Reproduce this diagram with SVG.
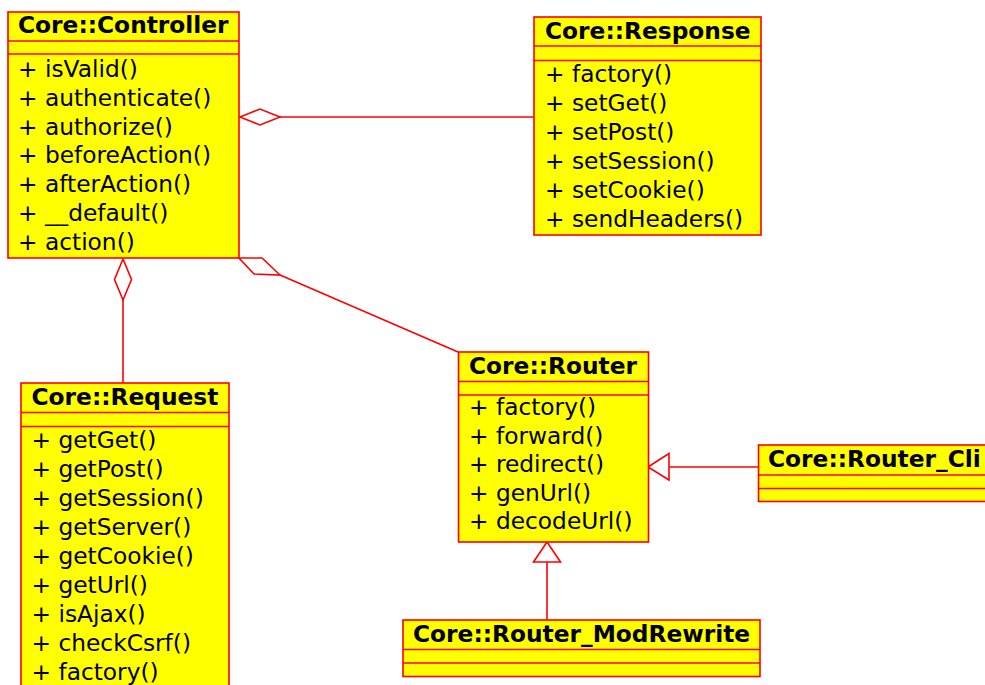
<svg xmlns="http://www.w3.org/2000/svg" width="985" height="685" viewBox="0 0 985 685">
<style>
.box{fill:#ffff00;stroke:#ff0000;stroke-width:1.6}
.sep{stroke:#ff0000;stroke-width:1.6;fill:none}
.t{font-family:"DejaVu Sans",sans-serif;font-size:23.3px;font-weight:bold;fill:#000}
.m{font-family:"DejaVu Sans",sans-serif;font-size:23.3px;fill:#000}
.ln{stroke:#ff0000;stroke-width:1.6;fill:none}
.hd{stroke:#ff0000;stroke-width:1.6;fill:#fff}
</style>
<rect width="985" height="685" fill="#fff"/>
<g id="connectors">
<line class="ln" x1="280" y1="117" x2="534" y2="117"/>
<polygon class="hd" points="240,117 260,109 280,117 260,125"/>
<line class="ln" x1="123" y1="300" x2="123" y2="383"/>
<polygon class="hd" points="123,259 131.5,279.5 123,300 114.5,279.5"/>
<line class="ln" x1="280" y1="275" x2="458" y2="352"/>
<polygon class="hd" points="239,258 262,258 280,275 254,274"/>
<line class="ln" x1="669" y1="467" x2="758" y2="467"/>
<polygon class="hd" points="648,467 669,453.5 669,480"/>
<line class="ln" x1="547" y1="562" x2="547" y2="620"/>
<polygon class="hd" points="547,542 533.5,562 560.5,562"/>
</g>
<g id="controller">
<rect class="box" x="8" y="12" width="231" height="246"/>
<line class="sep" x1="8" y1="41" x2="239" y2="41"/>
<line class="sep" x1="8" y1="54" x2="239" y2="54"/>
<text class="t" x="18" y="33">Core::Controller</text>
<text class="m" x="18" y="77">+ isValid()</text>
<text class="m" x="18" y="106">+ authenticate()</text>
<text class="m" x="18" y="134.5">+ authorize()</text>
<text class="m" x="18" y="163">+ beforeAction()</text>
<text class="m" x="18" y="192">+ afterAction()</text>
<text class="m" x="18" y="220.5">+ __default()</text>
<text class="m" x="18" y="249.5">+ action()</text>
</g>
<g id="response">
<rect class="box" x="534" y="17" width="227" height="218"/>
<line class="sep" x1="534" y1="46" x2="761" y2="46"/>
<line class="sep" x1="534" y1="60.5" x2="761" y2="60.5"/>
<text class="t" x="545" y="38.5">Core::Response</text>
<text class="m" x="545" y="82">+ factory()</text>
<text class="m" x="545" y="111">+ setGet()</text>
<text class="m" x="545" y="140">+ setPost()</text>
<text class="m" x="545" y="169">+ setSession()</text>
<text class="m" x="545" y="198">+ setCookie()</text>
<text class="m" x="545" y="227">+ sendHeaders()</text>
</g>
<g id="request">
<rect class="box" x="21" y="383" width="208" height="320"/>
<line class="sep" x1="21" y1="412.5" x2="229" y2="412.5"/>
<line class="sep" x1="21" y1="426.5" x2="229" y2="426.5"/>
<text class="t" x="31.5" y="405">Core::Request</text>
<text class="m" x="31.5" y="448">+ getGet()</text>
<text class="m" x="31.5" y="477">+ getPost()</text>
<text class="m" x="31.5" y="506">+ getSession()</text>
<text class="m" x="31.5" y="535">+ getServer()</text>
<text class="m" x="31.5" y="564">+ getCookie()</text>
<text class="m" x="31.5" y="593">+ getUrl()</text>
<text class="m" x="31.5" y="622">+ isAjax()</text>
<text class="m" x="31.5" y="651">+ checkCsrf()</text>
<text class="m" x="31.5" y="680">+ factory()</text>
</g>
<g id="router">
<rect class="box" x="458.5" y="352" width="190" height="190"/>
<line class="sep" x1="458.5" y1="381.5" x2="648.5" y2="381.5"/>
<line class="sep" x1="458.5" y1="395" x2="648.5" y2="395"/>
<text class="t" x="469" y="374">Core::Router</text>
<text class="m" x="469" y="415">+ factory()</text>
<text class="m" x="469" y="443.5">+ forward()</text>
<text class="m" x="469" y="472">+ redirect()</text>
<text class="m" x="469" y="500.5">+ genUrl()</text>
<text class="m" x="469" y="529">+ decodeUrl()</text>
</g>
<g id="router_cli">
<rect class="box" x="758.5" y="445" width="240" height="56.5"/>
<line class="sep" x1="758.5" y1="475" x2="998" y2="475"/>
<line class="sep" x1="758.5" y1="488.5" x2="998" y2="488.5"/>
<text class="t" x="768" y="467">Core::Router_Cli</text>
</g>
<g id="router_modrewrite">
<rect class="box" x="403" y="620" width="357" height="56.5"/>
<line class="sep" x1="403" y1="649.5" x2="760" y2="649.5"/>
<line class="sep" x1="403" y1="663" x2="760" y2="663"/>
<text class="t" x="413" y="641.5">Core::Router_ModRewrite</text>
</g>
</svg>
